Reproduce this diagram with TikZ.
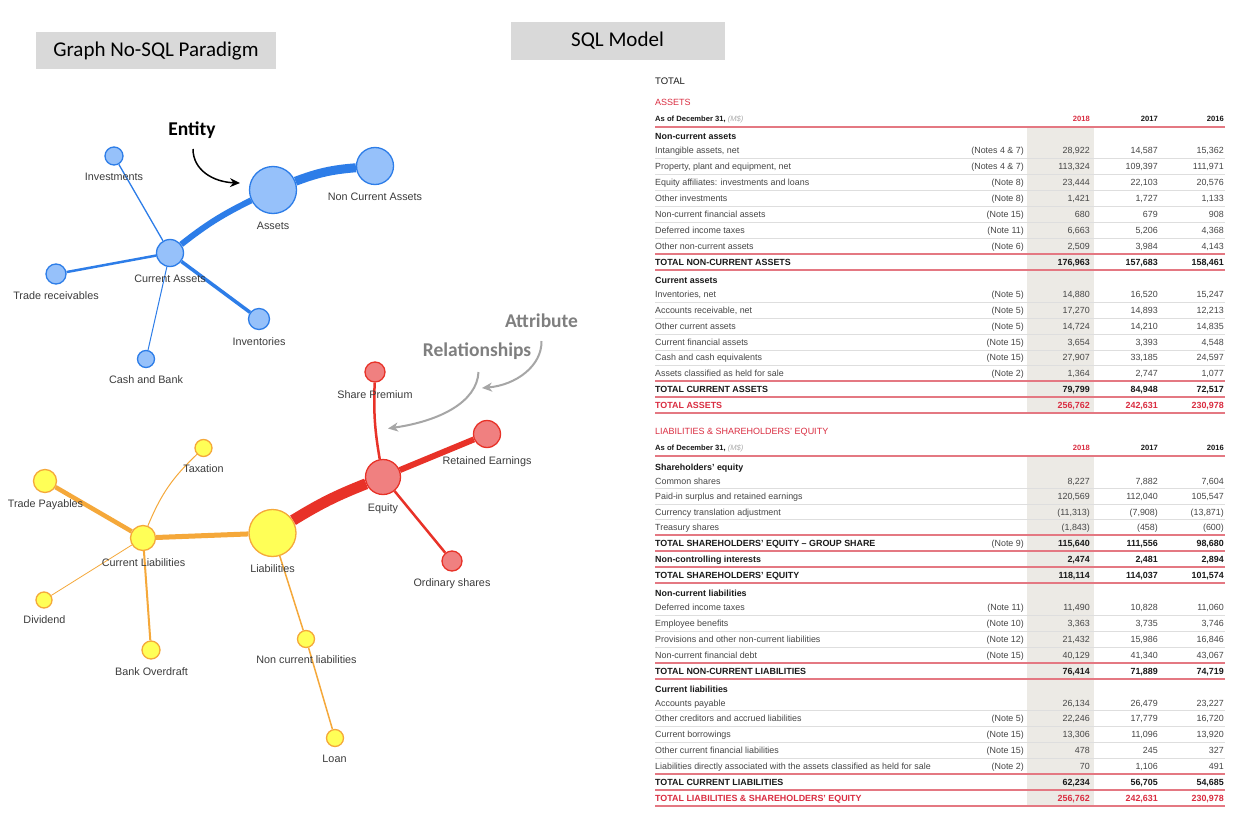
\documentclass[tikz,border=0pt]{standalone}
\usepackage{fontspec}
\setmainfont{Liberation Sans}
\newfontfamily\calib{Carlito}
\usetikzlibrary{arrows.meta}
\pgfdeclarelayer{back}
\pgfdeclarelayer{bg}
\pgfsetlayers{back,bg,main}
\definecolor{txt}{RGB}{70,70,70}
\definecolor{hd}{RGB}{25,25,25}
\definecolor{rd}{RGB}{218,45,65}
\definecolor{cRl}{RGB}{228,120,130}
\definecolor{cGl}{RGB}{222,222,222}
\definecolor{cShade}{RGB}{236,234,229}
\definecolor{lgray}{RGB}{170,170,170}
\definecolor{bfill}{RGB}{150,193,250}
\definecolor{bdraw}{RGB}{45,125,232}
\definecolor{rfill}{RGB}{240,128,128}
\definecolor{rdraw}{RGB}{232,50,40}
\definecolor{yfill}{RGB}{255,255,87}
\definecolor{ydraw}{RGB}{245,168,58}
\definecolor{labc}{RGB}{60,60,60}
\definecolor{annot}{RGB}{127,127,127}
\definecolor{arrg}{RGB}{166,166,166}
\definecolor{boxg}{RGB}{217,217,217}
\tikzset{
  tl/.style={inner sep=0pt, text height=6.4pt, text depth=0pt, font=\fontsize{8.9}{10}\selectfont, text=txt},
  tb/.style={tl, font=\fontsize{8.9}{10}\selectfont\bfseries, text=hd},
  tr/.style={tl, font=\fontsize{8.9}{10}\selectfont\bfseries, text=rd},
  thd/.style={inner sep=0pt, text height=5.5pt, text depth=0pt, font=\fontsize{7.6}{9}\selectfont\bfseries, text=hd},
  gsep/.style={draw=cGl, line width=0.7pt},
  rsep/.style={draw=cRl, line width=1.3pt},
  bn/.style={circle, draw=bdraw, fill=bfill, line width=1.3pt, inner sep=0pt},
  rn/.style={circle, draw=rdraw, fill=rfill, line width=1.3pt, inner sep=0pt},
  yn/.style={circle, draw=ydraw, fill=yfill, line width=1.3pt, inner sep=0pt},
  be/.style={draw=bdraw},
  ree/.style={draw=rdraw},
  ye/.style={draw=ydraw},
  gl/.style={inner sep=0pt, text height=7.7pt, text depth=0pt, font=\fontsize{10.8}{12}\selectfont, text=labc},
  ann/.style={inner sep=0pt, font=\calib\fontsize{19.5}{22}\selectfont\bfseries, text=annot},
  garr/.style={draw=arrg, line width=2pt, -{Stealth[length=10pt,width=9pt,inset=3pt]}},
  hbox/.style={fill=boxg, inner sep=0pt, font=\calib\fontsize{21}{24}\selectfont, text=black}
}
\newcommand\TabRow[7][tl]{%
  \node[#1,anchor=west] (L#2) at (655,#2) {#3};
  \node[tl,anchor=east] (N#2) at (1024,#2) {#4};
  \node[#1,anchor=east] (A#2) at (1090,#2) {#5};
  \node[#1,anchor=east] (B#2) at (1158,#2) {#6};
  \node[#1,anchor=east] (C#2) at (1224,#2) {#7};}
\newcommand\TabHead[2]{\node[tb,anchor=west] (H#1) at (655,#1) {#2};}
\newcommand\GLine[1]{\draw[gsep] (655,#1) -- (1225,#1);}
\newcommand\RLine[1]{\draw[rsep] (655,#1) -- (1225,#1);}
\newcommand\TabCols[1]{%
  \node[thd,anchor=west] (D#1) at (655,#1) {As of December 31, {\mdseries\itshape\color{lgray}(M\$)}};
  \node[thd,anchor=east,text=rd] (Ya#1) at (1090,#1) {2018};
  \node[thd,anchor=east] (Yb#1) at (1158,#1) {2017};
  \node[thd,anchor=east] (Yc#1) at (1224,#1) {2016};}
\begin{document}
\begin{tikzpicture}[x=1pt,y=-1pt]
\begin{pgfonlayer}{back}
\fill[white] (0,0) rectangle (1252,840);
\end{pgfonlayer}
\useasboundingbox (0,0) rectangle (1252,840);

% ---------- headers ----------
\node[hbox, minimum width=240pt, minimum height=37pt] (gh) at (156,51) {Graph No-SQL Paradigm};
\node[hbox, minimum width=214pt, minimum height=38pt] (sh) at (617.5,41) {SQL Model};

% ---------- table 1 ----------
\fill[cShade] (1027,128) rectangle (1094,413);
\node[tl,anchor=west,font=\fontsize{9.5}{11}\selectfont,text=hd,text height=6.9pt] (ttot) at (655,81) {TOTAL};
\node[tl,anchor=west,font=\fontsize{9}{11}\selectfont,text=rd,text height=6.5pt] (tass) at (655,102) {ASSETS};
\TabCols{119}
\RLine{127}
\TabHead{136}{Non-current assets}
\TabRow{150}{Intangible assets, net}{(Notes 4 \& 7)}{28,922}{14,587}{15,362}
\TabRow{166}{Property, plant and equipment, net}{(Notes 4 \& 7)}{113,324}{109,397}{111,971}
\TabRow{182}{Equity affiliates: investments and loans}{(Note 8)}{23,444}{22,103}{20,576}
\TabRow{198}{Other investments}{(Note 8)}{1,421}{1,727}{1,133}
\TabRow{214}{Non-current financial assets}{(Note 15)}{680}{679}{908}
\TabRow{230}{Deferred income taxes}{(Note 11)}{6,663}{5,206}{4,368}
\TabRow{246}{Other non-current assets}{(Note 6)}{2,509}{3,984}{4,143}
\TabRow[tb]{262}{TOTAL NON-CURRENT ASSETS}{}{176,963}{157,683}{158,461}
\GLine{158}\GLine{174}\GLine{190}\GLine{206}\GLine{222}\GLine{238}
\RLine{254}\RLine{270}
\TabHead{280}{Current assets}
\TabRow{294}{Inventories, net}{(Note 5)}{14,880}{16,520}{15,247}
\TabRow{310}{Accounts receivable, net}{(Note 5)}{17,270}{14,893}{12,213}
\TabRow{326}{Other current assets}{(Note 5)}{14,724}{14,210}{14,835}
\TabRow{342}{Current financial assets}{(Note 15)}{3,654}{3,393}{4,548}
\TabRow{357}{Cash and cash equivalents}{(Note 15)}{27,907}{33,185}{24,597}
\TabRow{373}{Assets classified as held for sale}{(Note 2)}{1,364}{2,747}{1,077}
\TabRow[tb]{389}{TOTAL CURRENT ASSETS}{}{79,799}{84,948}{72,517}
\TabRow[tr]{405}{TOTAL ASSETS}{}{256,762}{242,631}{230,978}
\GLine{302}\GLine{318}\GLine{334}\GLine{350}\GLine{365}
\RLine{381}\RLine{397}\RLine{413}

% ---------- table 2 ----------
\fill[cShade] (1027,457) rectangle (1094,806);
\node[tl,anchor=west,font=\fontsize{9}{11}\selectfont,text=rd,text height=6.5pt] (tlia) at (655,431) {LIABILITIES \& SHAREHOLDERS' EQUITY};
\TabCols{448}
\RLine{456}
\TabHead{467}{Shareholders' equity}
\TabRow{481}{Common shares}{}{8,227}{7,882}{7,604}
\TabRow{496}{Paid-in surplus and retained earnings}{}{120,569}{112,040}{105,547}
\TabRow{512}{Currency translation adjustment}{}{(11,313)}{(7,908)}{(13,871)}
\TabRow{527}{Treasury shares}{}{(1,843)}{(458)}{(600)}
\TabRow[tb]{543}{TOTAL SHAREHOLDERS' EQUITY – GROUP SHARE}{(Note 9)}{115,640}{111,556}{98,680}
\TabRow[tb]{559}{Non-controlling interests}{}{2,474}{2,481}{2,894}
\TabRow[tb]{575}{TOTAL SHAREHOLDERS' EQUITY}{}{118,114}{114,037}{101,574}
\GLine{488}\GLine{504}\GLine{519}
\RLine{535}\RLine{551}\RLine{567}\RLine{583}
\TabHead{593}{Non-current liabilities}
\TabRow{607}{Deferred income taxes}{(Note 11)}{11,490}{10,828}{11,060}
\TabRow{623}{Employee benefits}{(Note 10)}{3,363}{3,735}{3,746}
\TabRow{639}{Provisions and other non-current liabilities}{(Note 12)}{21,432}{15,986}{16,846}
\TabRow{655}{Non-current financial debt}{(Note 15)}{40,129}{41,340}{43,067}
\TabRow[tb]{671}{TOTAL NON-CURRENT LIABILITIES}{}{76,414}{71,889}{74,719}
\GLine{615}\GLine{631}\GLine{647}
\RLine{663}\RLine{679}
\TabHead{689}{Current liabilities}
\TabRow{703}{Accounts payable}{}{26,134}{26,479}{23,227}
\TabRow{718}{Other creditors and accrued liabilities}{(Note 5)}{22,246}{17,779}{16,720}
\TabRow{734}{Current borrowings}{(Note 15)}{13,306}{11,096}{13,920}
\TabRow{750}{Other current financial liabilities}{(Note 15)}{478}{245}{327}
\TabRow{766}{Liabilities directly associated with the assets classified as held for sale}{(Note 2)}{70}{1,106}{491}
\TabRow[tb]{782}{TOTAL CURRENT LIABILITIES}{}{62,234}{56,705}{54,685}
\TabRow[tr]{798}{TOTAL LIABILITIES \& SHAREHOLDERS' EQUITY}{}{256,762}{242,631}{230,978}
\GLine{710}\GLine{726}\GLine{742}\GLine{758}
\RLine{774}\RLine{790}\RLine{806}

% ---------- graph: blue ----------
\node[bn,minimum size=47pt] (assets) at (273,190) {};
\node[bn,minimum size=37pt] (nca) at (375,166) {};
\node[bn,minimum size=27pt] (ca) at (170,253) {};
\node[bn,minimum size=18pt] (inv) at (114,156) {};
\node[bn,minimum size=20pt] (trr) at (56,274) {};
\node[bn,minimum size=21pt] (invt) at (259,319) {};
\node[bn,minimum size=17pt] (cash) at (146,359) {};
\node[gl] (assetsT) at (273,226) {Assets};
\node[gl] (ncaT) at (375,197) {Non Current Assets};
\node[gl] (caT) at (170,279) {Current Assets};
\node[gl] (invT) at (114,177) {Investments};
\node[gl] (trrT) at (56,296) {Trade receivables};
\node[gl] (invtT) at (259,342) {Inventories};
\node[gl] (cashT) at (146,380) {Cash and Bank};

% ---------- graph: red ----------
\node[rn,minimum size=35pt] (eq) at (383,477) {};
\node[rn,minimum size=20pt] (sp) at (375,372) {};
\node[rn,minimum size=27pt] (ret) at (487,434) {};
\node[rn,minimum size=20pt] (os) at (452,561) {};
\node[gl] (eqT) at (383,508) {Equity};
\node[gl] (spT) at (375,395) {Share Premium};
\node[gl] (retT) at (487,461) {Retained Earnings};
\node[gl] (osT) at (452,583) {Ordinary shares};

% ---------- graph: yellow ----------
\node[yn,minimum size=47pt] (liab) at (272.5,533) {};
\node[yn,minimum size=25pt] (cl) at (143,538) {};
\node[yn,minimum size=17pt] (tax) at (203.5,448) {};
\node[yn,minimum size=23pt] (tp) at (45,481) {};
\node[yn,minimum size=16pt] (div) at (44,600) {};
\node[yn,minimum size=18pt] (bo) at (151,650) {};
\node[yn,minimum size=17pt] (ncl) at (306,639) {};
\node[yn,minimum size=17pt] (loan) at (335,738) {};
\node[gl] (liabT) at (272.5,569) {Liabilities};
\node[gl] (clT) at (143.5,563) {Current Liabilities};
\node[gl] (taxT) at (203.5,469) {Taxation};
\node[gl] (tpT) at (45.5,504) {Trade Payables};
\node[gl] (divT) at (44.5,620) {Dividend};
\node[gl] (boT) at (151.5,671.5) {Bank Overdraft};
\node[gl] (nclT) at (306.5,660) {Non current liabilities};
\node[gl] (loanT) at (334.5,759) {Loan};

% ---------- edges ----------
\begin{pgfonlayer}{bg}
\draw[be,line width=9pt] (assets) to[bend left=8] (nca);
\draw[be,line width=6pt] (ca) to[bend left=6] (assets);
\draw[be,line width=1.3pt] (ca) -- (inv);
\draw[be,line width=2.5pt] (ca) -- (trr);
\draw[be,line width=3.5pt] (ca) -- (invt);
\draw[be,line width=1pt] (ca) -- (cash);
\draw[ree,line width=11pt] (liab) to[bend left=5] (eq);
\draw[ree,line width=6pt] (eq) -- (ret);
\draw[ree,line width=2.5pt] (eq) to[bend left=6] (sp);
\draw[ree,line width=2.5pt] (eq) -- (os);
\draw[ye,line width=5pt] (cl) -- (liab);
\draw[ye,line width=4.5pt] (cl) -- (tp);
\draw[ye,line width=1pt] (cl) to[bend left=12] (tax);
\draw[ye,line width=0.8pt] (cl) -- (div);
\draw[ye,line width=2pt] (cl) -- (bo);
\draw[ye,line width=1.5pt] (liab) -- (ncl);
\draw[ye,line width=1.5pt] (ncl) -- (loan);
\end{pgfonlayer}

% ---------- annotations ----------
\node[inner sep=0pt, font=\calib\fontsize{19.5}{22}\selectfont\bfseries] (ent) at (192,130.5) {Entity};
\coordinate (entS) at (193,149);
\coordinate (entT) at (240,183);
\draw[line width=1.5pt, -{Stealth[length=10pt,width=9pt]}] (entS) .. controls (193,170) and (213,182) .. (entT);
\node[ann] (attr) at (541.5,320.5) {Attribute};
\node[ann] (rel) at (477,351.5) {Relationships};
\coordinate (attS) at (541.5,341);
\coordinate (attT) at (482,388);
\draw[garr] (attS) .. controls (542,366) and (516,385) .. (attT);
\coordinate (relS) at (478.5,372);
\coordinate (relT) at (388,428.5);
\draw[garr] (relS) .. controls (477,402) and (440,421) .. (relT);
\end{tikzpicture}
\end{document}
